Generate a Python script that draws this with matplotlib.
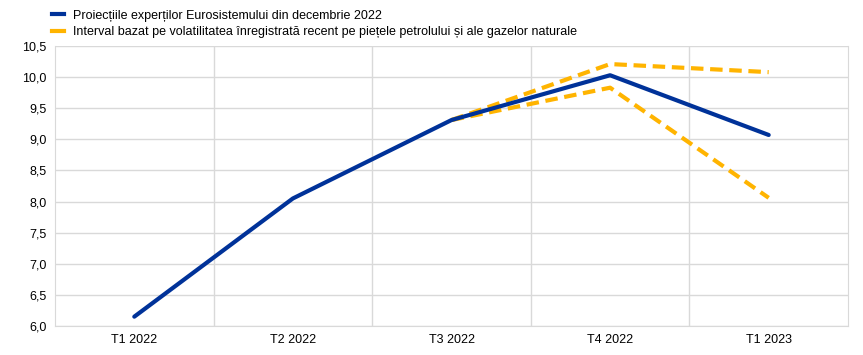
import matplotlib
matplotlib.use("Agg")
import matplotlib.pyplot as plt
from matplotlib.lines import Line2D

categories = ["T1 2022", "T2 2022", "T3 2022", "T4 2022", "T1 2023"]
projection = [6.15, 8.05, 9.31, 10.03, 9.07]
upper_cats = ["T3 2022", "T4 2022", "T1 2023"]
upper = [9.31, 10.21, 10.08]
lower = [9.31, 9.83, 8.06]
yticks = [6.0, 6.5, 7.0, 7.5, 8.0, 8.5, 9.0, 9.5, 10.0, 10.5]

plt.rcParams['font.family'] = ['Liberation Sans', 'DejaVu Sans']

BLUE = "#003299"
ORANGE = "#FFB400"
GRID = "#D9D9D9"

fig = plt.figure(figsize=(8.63, 3.55), dpi=100)
ax = fig.add_axes([55/863, 1-326/355, (848-55)/863, (326-46)/355])

xi = {c: i for i, c in enumerate(categories)}
ax.plot([xi[c] for c in upper_cats], upper, color=ORANGE, lw=3, ls=(0, (3, 1.6)), zorder=3)
ax.plot([xi[c] for c in upper_cats], lower, color=ORANGE, lw=3, ls=(0, (3, 1.6)), zorder=3)
ax.plot(range(len(categories)), projection, color=BLUE, lw=3, zorder=4, solid_capstyle='round')

ax.set_xlim(-0.5, len(categories) - 0.5)
ax.set_ylim(6.0, 10.5)
ax.set_yticks(yticks)
ax.set_yticklabels([f"{v:.1f}".replace(".", ",") for v in yticks])
ax.set_xticks(range(len(categories)))
ax.set_xticklabels(categories)
ax.set_xticks([i + 0.5 for i in range(len(categories) - 1)], minor=True)

ax.grid(axis='y', color=GRID, lw=1)
ax.grid(axis='x', which='minor', color=GRID, lw=1)
ax.set_axisbelow(True)
ax.spines['top'].set_visible(False)
ax.spines['left'].set_color(GRID)
ax.spines['right'].set_color(GRID)
ax.spines['bottom'].set_color(GRID)
ax.tick_params(axis='both', length=0, labelsize=9, colors='black', pad=6)
ax.tick_params(axis='x', which='minor', length=0)

handles = [Line2D([], [], color=BLUE, lw=3),
           Line2D([], [], color=ORANGE, lw=3)]
labels = ["Proiecțiile experților Eurosistemului din decembrie 2022",
          "Interval bazat pe volatilitatea înregistrată recent pe piețele petrolului și ale gazelor naturale"]
fig.legend(handles, labels, loc='upper left', bbox_to_anchor=(44/863, 1 - 2/355), frameon=False,
           fontsize=9, handlelength=1.0, handletextpad=0.75, labelspacing=0.4, borderaxespad=0.2)

fig.savefig("out.png", dpi=100)
